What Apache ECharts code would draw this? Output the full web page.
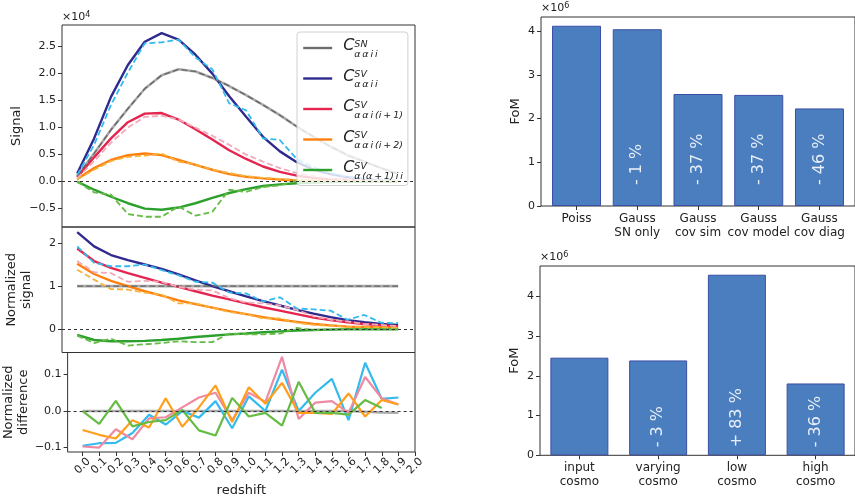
<!DOCTYPE html>
<html><head><meta charset="utf-8">
<script src="https://cdn.jsdelivr.net/npm/echarts@6/dist/echarts.min.js"></script>
<style>html,body{margin:0;padding:0;background:#fff}#c{width:855px;height:498px}</style>
</head><body><div id="c"></div>
<script>
// ---------- data ----------
const redshift = [0.0,0.1,0.2,0.3,0.4,0.5,0.6,0.7,0.8,0.9,1.0,1.1,1.2,1.3,1.4,1.5,1.6,1.7,1.8,1.9];
const xTicks = [0.0,0.1,0.2,0.3,0.4,0.5,0.6,0.7,0.8,0.9,1.0,1.1,1.2,1.3,1.4,1.5,1.6,1.7,1.8,1.9,2.0];
const sigTicks = [-0.5,0.0,0.5,1.0,1.5,2.0,2.5];
const normTicks = [0,1,2];
const diffTicks = [-0.1,0.0,0.1];
const fomTicks = [0,1,2,3,4];

// Signal (x 1e4)
const sigSN      = [0.10,0.52,0.96,1.35,1.72,1.97,2.08,2.04,1.92,1.77,1.60,1.42,1.23,1.02,0.83,0.65,0.49,0.37,0.25,0.14];
const sigSV      = [0.15,0.80,1.57,2.16,2.59,2.75,2.63,2.35,2.00,1.58,1.20,0.83,0.56,0.36,0.22,0.14,0.08,0.04,0.02,0.01];
const sigSVsim   = [0.12,0.68,1.42,2.02,2.56,2.58,2.63,2.30,2.08,1.45,1.32,0.80,0.77,0.42,0.26,0.16,0.09,0.06,0.04,0.02];
const sigI1      = [0.08,0.45,0.80,1.10,1.26,1.27,1.15,0.97,0.78,0.58,0.42,0.28,0.18,0.11,0.07,0.04,0.03,0.02,0.01,0.01];
const sigI1sim   = [0.06,0.38,0.72,1.00,1.20,1.22,1.15,1.00,0.85,0.68,0.50,0.37,0.25,0.16,0.10,0.06,0.04,0.03,0.02,0.01];
const sigI2      = [0.05,0.25,0.40,0.49,0.52,0.49,0.40,0.31,0.22,0.14,0.09,0.06,0.04,0.02,0.015,0.01,0.01,0.005,0.005,0.005];
const sigI2sim   = [0.04,0.22,0.38,0.46,0.48,0.52,0.37,0.32,0.22,0.16,0.10,0.07,0.05,0.03,0.02,0.015,0.01,0.01,0.005,0.005];
const sigA1      = [0.0,-0.15,-0.28,-0.40,-0.50,-0.52,-0.48,-0.40,-0.30,-0.21,-0.14,-0.08,-0.05,-0.03,-0.015,-0.01,-0.005,0,0,0];
const sigA1sim   = [0.0,-0.20,-0.24,-0.60,-0.65,-0.65,-0.46,-0.63,-0.56,-0.15,-0.19,-0.10,-0.07,0.02,-0.02,0.0,0.0,0.01,0.0,0.0];

// Normalized signal
const nSN      = [1,1,1,1,1,1,1,1,1,1,1,1,1,1,1,1,1,1,1,1];
const nSV      = [2.25,1.92,1.72,1.60,1.50,1.40,1.27,1.13,1.00,0.88,0.76,0.65,0.55,0.45,0.36,0.28,0.21,0.16,0.12,0.10];
const nSVsim   = [1.92,1.54,1.46,1.46,1.50,1.37,1.25,1.10,1.08,0.85,0.83,0.64,0.74,0.48,0.46,0.43,0.22,0.33,0.15,0.14];
const nI1      = [1.87,1.58,1.42,1.30,1.19,1.08,0.98,0.88,0.78,0.69,0.60,0.51,0.43,0.35,0.27,0.21,0.16,0.12,0.09,0.07];
const nI1sim   = [1.58,1.32,1.30,1.10,1.12,1.10,0.98,0.92,0.90,0.72,0.62,0.60,0.55,0.45,0.30,0.22,0.18,0.12,0.10,0.07];
const nI2      = [1.52,1.28,1.12,1.00,0.88,0.78,0.67,0.58,0.50,0.42,0.35,0.28,0.22,0.17,0.12,0.09,0.06,0.05,0.04,0.03];
const nI2sim   = [1.38,1.15,0.93,0.92,0.85,0.80,0.60,0.60,0.50,0.40,0.35,0.25,0.25,0.15,0.10,0.08,0.06,0.05,0.04,0.03];
const nA1      = [-0.13,-0.25,-0.28,-0.28,-0.27,-0.25,-0.22,-0.18,-0.15,-0.12,-0.10,-0.07,-0.05,-0.03,-0.02,-0.01,0,0,0,0];
const nA1sim   = [-0.15,-0.32,-0.22,-0.38,-0.35,-0.32,-0.28,-0.30,-0.30,-0.10,-0.12,-0.12,-0.10,0.03,-0.02,0,0,0.01,0,0];

// Normalized difference
const dSN  = [0,0,0,0,0,0,0,0,0,0,0,0,0,0,0,0,0,-0.002,-0.004,-0.005];
const dSV  = [-0.095,-0.088,-0.087,-0.060,-0.010,-0.037,0.000,-0.018,0.027,-0.047,0.040,0.000,0.113,0.000,0.050,0.088,-0.025,0.132,0.033,0.037];
const dI1  = [-0.097,-0.100,-0.050,-0.077,-0.020,-0.017,0.010,0.037,0.050,-0.025,0.050,0.025,0.148,-0.022,0.023,0.027,-0.005,0.093,0.035,0.018];
const dI2  = [-0.052,-0.065,-0.075,-0.025,-0.045,0.035,-0.043,0.010,0.070,-0.030,0.065,0.020,0.077,-0.005,-0.005,-0.008,0.048,-0.015,0.030,0.018];
const dA1  = [0.000,-0.035,0.028,-0.042,-0.030,-0.025,0.003,-0.053,-0.067,0.036,-0.015,-0.005,-0.040,0.080,-0.005,-0.005,-0.010,0.030,0.008];

// FoM bars (x 1e6)
const catsTop = ['Poiss','Gauss\nSN only','Gauss\ncov sim','Gauss\ncov model','Gauss\ncov diag'];
const fomTop  = [4.12,4.04,2.56,2.54,2.23];
const pctTop  = ['','- 1 %','- 37 %','- 37 %','- 46 %'];
const catsBot = ['input\ncosmo','varying\ncosmo','low\ncosmo','high\ncosmo'];
const fomBot  = [2.46,2.39,4.55,1.81];
const pctBot  = ['','- 3 %','+ 83 %','- 36 %'];

// ---------- chart ----------
const FONT = 'DejaVu Sans';
const TXT = '#222';
const chart = echarts.init(document.getElementById('c'), null, {renderer:'canvas'});
const pairs = (arr) => arr.map((v,i)=>[redshift[i], v]);
const minus = (s) => s.replace('-', '\u2212');

const gridBase = {show:true, borderColor:'#333', borderWidth:1, backgroundColor:'transparent'};
const grids = [
  Object.assign({left:62, top:25, width:353, height:202}, gridBase),
  Object.assign({left:62, top:227, width:353, height:125.5}, gridBase),
  Object.assign({left:62, top:352.5, width:353, height:101}, gridBase),
  Object.assign({left:541, top:17, width:318, height:189}, gridBase),
  Object.assign({left:540, top:266, width:320, height:189.3}, gridBase)
];
const noLine = {show:false, onZero:false};

function leftX(idx, showLabels){
  return {
    type:'value', gridIndex:idx, min:-0.09, max:2.0, position:'bottom',
    axisLine:noLine, splitLine:{show:false},
    axisTick:{show:showLabels, length:4, lineStyle:{color:'#333'}, customValues:xTicks},
    axisLabel:{show:showLabels, customValues:xTicks, rotate:45, align:'center', verticalAlign:'middle',
      margin:14, fontSize:11, color:TXT, fontFamily:FONT, formatter:(v)=>v.toFixed(1)},
    name: showLabels ? 'redshift' : '', nameLocation:'middle', nameGap:32,
    nameTextStyle:{fontSize:13, color:TXT, fontFamily:FONT}
  };
}
function leftY(idx, min, max, ticks, fmt, name, gap){
  return {
    type:'value', gridIndex:idx, min:min, max:max, position:'left',
    axisLine:noLine, splitLine:{show:false},
    axisTick:{show:true, length:4, lineStyle:{color:'#333'}, customValues:ticks},
    axisLabel:{customValues:ticks, fontSize:11, color:TXT, fontFamily:FONT, margin:6, formatter:(v)=>minus(fmt(v))},
    name:name, nameLocation:'middle', nameGap:gap,
    nameTextStyle:{fontSize:13, color:TXT, fontFamily:FONT, lineHeight:15}
  };
}
function fomY(idx, max){
  return {type:'value', gridIndex:idx, min:0, max:max, position:'left', axisLine:noLine, splitLine:{show:false},
   axisTick:{show:true, length:4, lineStyle:{color:'#333'}, customValues:fomTicks},
   axisLabel:{customValues:fomTicks, fontSize:11, color:TXT, fontFamily:FONT, margin:6},
   name:'FoM', nameLocation:'middle', nameGap:19, nameTextStyle:{fontSize:13, color:TXT, fontFamily:FONT}};
}
function expY(idx, min, max, e, gap){
  return {type:'value', gridIndex:idx, min:min, max:max, position:'left', axisLine:noLine, axisTick:{show:false},
    axisLabel:{show:false}, splitLine:{show:false},
    name:'×10{s|' + e + '}', nameLocation:'end', nameGap:gap,
    nameTextStyle:{align:'left', fontSize:11, color:TXT, fontFamily:FONT, verticalAlign:'bottom',
      rich:{s:{fontSize:8, verticalAlign:'top', fontFamily:FONT, color:TXT, padding:[0,0,5,0]}}}};
}

const xAxes = [
  leftX(0,false), leftX(1,false), leftX(2,true),
  {type:'value', gridIndex:3, min:-0.585, max:4.585, position:'bottom', axisLine:noLine, splitLine:{show:false},
   axisTick:{show:true, length:4, lineStyle:{color:'#333'}, customValues:[0,1,2,3,4]},
   axisLabel:{customValues:[0,1,2,3,4], fontSize:12, color:TXT, fontFamily:FONT, margin:6, lineHeight:14,
     formatter:(v)=>catsTop[Math.round(v)]}},
  {type:'value', gridIndex:4, min:-0.5, max:3.5, position:'bottom', axisLine:noLine, splitLine:{show:false},
   axisTick:{show:true, length:4, lineStyle:{color:'#333'}, customValues:[0,1,2,3]},
   axisLabel:{customValues:[0,1,2,3], fontSize:12, color:TXT, fontFamily:FONT, margin:6, lineHeight:14,
     formatter:(v)=>catsBot[Math.round(v)]}}
];

const yAxes = [
  leftY(0,-0.84,2.9,sigTicks,(v)=>v.toFixed(1),'Signal',38),
  leftY(1,-0.54,2.37,normTicks,(v)=>v.toFixed(0),'Normalized\nsignal',28),
  leftY(2,-0.112,0.160,diffTicks,(v)=>v.toFixed(1),'Normalized\ndifference',28),
  fomY(3, 4.32),
  fomY(4, 4.77),
  expY(0,-0.84,2.9,4,1),
  expY(3,0,4.32,6,2),
  expY(4,0,4.77,6,2)
];

const C = {
  gray:'#aaaaaa', grayD:'#666666', blue:'#2f2a8e', lblue:'#33bbee', red:'#e5244f', pink:'#f2a9b8',
  orange:'#ff7f0e', lorange:'#f7b23b', green:'#2ca02c', lgreen:'#66bb44',
  dblue:'#33bbee', dpink:'#ee8aa2', dorange:'#ff9f1c', dgreen:'#66bb44'
};
const zeroLine = {silent:true, symbol:['none','none'], label:{show:false},
  lineStyle:{type:[3,3], color:'#333', width:1}, data:[{yAxis:0}], animation:false};

function line(name, arr, g, color, dashed, width, extra){
  return Object.assign({
    type:'line', name:name, xAxisIndex:g, yAxisIndex:g, data:pairs(arr), symbol:'none',
    showSymbol:false, animation:false, silent:true,
    lineStyle:{color:color, width:width, type: dashed ? [6,3] : 'solid'},
    itemStyle:{color:color}
  }, extra||{});
}

const N = ['SN','SVii','SVi1','SVi2','SVa1'];
const series = [];
// top panel
series.push(line(N[0], sigSN, 0, C.gray, false, 2.6, {markLine:zeroLine}));
series.push(line(N[1], sigSV, 0, C.blue, false, 2.4));
series.push(line(N[2], sigI1, 0, C.red, false, 2.4));
series.push(line(N[3], sigI2, 0, C.orange, false, 2.4));
series.push(line(N[4], sigA1, 0, C.green, false, 2.4));
series.push(line('sSN', sigSN, 0, C.grayD, true, 1.3));
series.push(line('sSV', sigSVsim, 0, C.lblue, true, 1.8));
series.push(line('sI1', sigI1sim, 0, C.pink, true, 1.8));
series.push(line('sI2', sigI2sim, 0, C.lorange, true, 1.8));
series.push(line('sA1', sigA1sim, 0, C.lgreen, true, 1.8));
// middle panel
series.push(line(N[0], nSN, 1, C.gray, false, 2.6, {markLine:zeroLine}));
series.push(line(N[1], nSV, 1, C.blue, false, 2.4));
series.push(line(N[2], nI1, 1, C.red, false, 2.4));
series.push(line(N[3], nI2, 1, C.orange, false, 2.4));
series.push(line(N[4], nA1, 1, C.green, false, 2.4));
series.push(line('sSN', nSN, 1, C.grayD, true, 1.3));
series.push(line('sSV', nSVsim, 1, C.lblue, true, 1.8));
series.push(line('sI1', nI1sim, 1, C.pink, true, 1.8));
series.push(line('sI2', nI2sim, 1, C.lorange, true, 1.8));
series.push(line('sA1', nA1sim, 1, C.lgreen, true, 1.8));
// bottom panel
series.push(line('dSN', dSN, 2, C.gray, false, 2.4, {markLine:zeroLine}));
series.push(line('dSV', dSV, 2, C.dblue, false, 2.2));
series.push(line('dI1', dI1, 2, C.dpink, false, 2.2));
series.push(line('dI2', dI2, 2, C.dorange, false, 2.2));
series.push(line('dA1', dA1, 2, C.dgreen, false, 2.2));

// bars
function bars(vals, pcts, g, width, dist){
  return {
    type:'bar', name:'bars'+g, xAxisIndex:g, yAxisIndex:g, barWidth:width, animation:false, silent:true,
    data: vals.map((v,i)=>[i, v]),
    itemStyle:{color:'#4a7ebf', borderColor:'#3b4ea6', borderWidth:1},
    label:{show:true, position:'insideBottom', rotate:90, align:'left', verticalAlign:'middle', distance:dist,
      fontSize:16, color:'#e9eff8', fontFamily:FONT, formatter:(p)=>pcts[p.dataIndex]}
  };
}
series.push(bars(fomTop, pctTop, 3, 49, 21));
series.push(bars(fomBot, pctBot, 4, 58, 8));

const T = '\u2009';
const legendSup = {SN:'SN', SVii:'SV', SVi1:'SV', SVi2:'SV', SVa1:'SV'};
const legendSub = {SN:'α'+T+'α'+T+'i'+T+'i', SVii:'α'+T+'α'+T+'i'+T+'i', SVi1:'α'+T+'α'+T+'i'+T+'(i'+T+'+'+T+'1)',
  SVi2:'α'+T+'α'+T+'i'+T+'(i'+T+'+'+T+'2)', SVa1:'α'+T+'(α'+T+'+'+T+'1)'+T+'i'+T+'i'};

const option = {
  backgroundColor:'#fff',
  textStyle:{fontFamily:FONT},
  grid: grids,
  xAxis: xAxes,
  yAxis: yAxes,
  legend:{
    show:true, data:N.map((n,i)=>({name:n, lineStyle: i===0 ? {color:'#6e6e6e', width:2.4} : {width:2.4}})),
    orient:'vertical', left:297, top:32, itemWidth:29, itemHeight:10, itemGap:9,
    padding:[6,5,4,5], backgroundColor:'rgba(255,255,255,0.8)', borderColor:'#d0d0d0', borderWidth:1, borderRadius:3,
    selectedMode:false,
    itemStyle:{color:'rgba(0,0,0,0)', borderWidth:0, opacity:0},
    formatter:(name)=>'{c|C}{sp|' + legendSup[name] + '}\n{sub|' + legendSub[name] + '}',
    textStyle:{fontFamily:FONT, color:TXT, rich:{
      c:{fontSize:16, fontStyle:'italic', fontFamily:FONT, color:TXT, lineHeight:13, padding:[0,0,0,6]},
      sp:{fontSize:9.5, fontStyle:'italic', fontFamily:FONT, color:TXT, lineHeight:9, verticalAlign:'top'},
      sub:{fontSize:9.5, fontStyle:'italic', fontFamily:FONT, color:TXT, lineHeight:4, padding:[0,0,0,17]}
    }}
  },
  series: series
};
chart.setOption(option);
</script></body></html>
